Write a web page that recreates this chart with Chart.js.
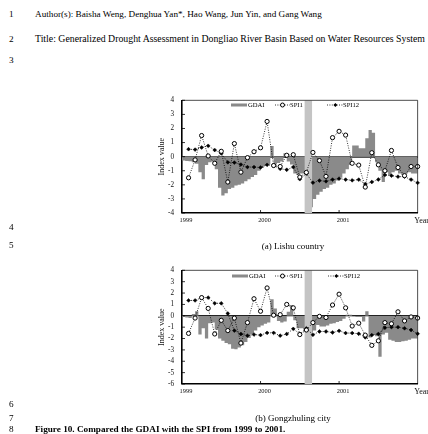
<!DOCTYPE html>
<html>
<head>
<meta charset="utf-8">
<script src="https://cdn.jsdelivr.net/npm/chart.js@4.4.1/dist/chart.umd.min.js"></script>
<style>
  html, body { margin: 0; padding: 0; background: #fff; }
  body { width: 428px; height: 434px; position: relative; overflow: hidden;
         font-family: 'Liberation Serif', 'DejaVu Serif', serif; color: #000; }
  .t { position: absolute; white-space: nowrap; font-size: 9.2px; line-height: 10px; }
  .n { left: 9px; }
  .cap { position: absolute; white-space: nowrap; font-size: 9px; line-height: 10px; transform: translateX(-50%); }
  .box { position: absolute; left: 0; width: 428px; }
  .lg { position: absolute; white-space: nowrap; font-size: 6.6px; line-height: 8px; color: #000; }
  .lg span, .lg svg { position: absolute; top: 0; }
</style>
</head>
<body>
<div class="t n" style="top:9px">1</div>
<div class="t" style="left:35px;top:9px">Author(s): Baisha Weng, Denghua Yan*, Hao Wang, Jun Yin, and Gang Wang</div>
<div class="t n" style="top:34px">2</div>
<div class="t" style="left:35px;top:34px;font-size:9.8px">Title: Generalized Drought Assessment in Dongliao River Basin Based on Water Resources System</div>
<div class="t n" style="top:55px">3</div>

<div class="box" style="top:88px;height:142px"><canvas id="lishu" width="428" height="142"></canvas></div>
<div class="lg" style="left:0;top:101px;width:428px;height:8px">
  <svg style="left:231px" width="16" height="8"><rect x="0" y="2.5" width="16" height="3" fill="#8a8a8a"/></svg>
  <span style="left:248px">GDAI</span>
  <svg style="left:275px" width="15" height="8"><line x1="0" y1="4" x2="15" y2="4" stroke="#000" stroke-width="0.8" stroke-dasharray="1 1.4"/><circle cx="7.5" cy="4" r="2" fill="#fff" stroke="#000" stroke-width="1"/></svg>
  <span style="left:290px">SPI1</span>
  <svg style="left:327px" width="16" height="8"><line x1="0" y1="4" x2="16" y2="4" stroke="#000" stroke-width="0.8" stroke-dasharray="1 1.4"/><rect x="7" y="2.6" width="2.8" height="2.8" fill="#000" transform="rotate(45 8.4 4)"/></svg>
  <span style="left:343px">SPI12</span>
</div>

<div class="t n" style="top:222px">4</div>
<div class="t n" style="top:240px">5</div>
<div class="cap" style="left:293px;top:241px">(a) Lishu country</div>

<div class="box" style="top:258px;height:143px"><canvas id="gong" width="428" height="143"></canvas></div>
<div class="lg" style="left:0;top:272px;width:428px;height:8px">
  <svg style="left:232px" width="16" height="8"><rect x="0" y="2.5" width="16" height="3" fill="#8a8a8a"/></svg>
  <span style="left:249px">GDAI</span>
  <svg style="left:275px" width="15" height="8"><line x1="0" y1="4" x2="15" y2="4" stroke="#000" stroke-width="0.8" stroke-dasharray="1 1.4"/><circle cx="7.5" cy="4" r="2" fill="#fff" stroke="#000" stroke-width="1"/></svg>
  <span style="left:290px">SPI1</span>
  <svg style="left:328px" width="16" height="8"><line x1="0" y1="4" x2="16" y2="4" stroke="#000" stroke-width="0.8" stroke-dasharray="1 1.4"/><rect x="7" y="2.6" width="2.8" height="2.8" fill="#000" transform="rotate(45 8.4 4)"/></svg>
  <span style="left:344px">SPI12</span>
</div>

<div class="t n" style="top:399px">6</div>
<div class="t n" style="top:413px">7</div>
<div class="cap" style="left:293px;top:413px">(b) Gongzhuling city</div>
<div class="t n" style="top:424px">8</div>
<div class="t" style="left:35px;top:424px;font-weight:bold">Figure 10. Compared the GDAI with the SPI from 1999 to 2001.</div>

<script>
// x positions are months since Jan 1999 (0..36); SPI values sit at month ends
const yearTicks = ['1999', '2000', '2001', 'Year'];
const yearTickMonths = [0, 12, 24, 36];
const droughtBand = [18.7, 19.9];

// (a) Lishu country, monthly SPI
const lishuSpi1 = [-1.5, -0.23, 1.5, 0.05, -0.47, 0.38, -1.8, 0.93, -1.1, -0.07, 0.35, 0.63,
                   2.5, -0.63, -0.7, 0.1, 0.14, -1.45, -1.12, 0.3, -0.28, -1.4, 1.35, 1.8,
                   1.53, -0.47, -0.6, -2.16, 0.28, -0.58, -1.0, 0.44, -0.77, -1.35, -0.7, -0.7];
const lishuSpi12 = [0.53, 0.5, 0.65, 0.77, 0.47, 0.23, -0.4, -0.42, -0.56, -0.74, -0.74, -0.77,
                    -0.58, -0.63, -0.86, -0.93, -0.74, -1.6, -1.2, -1.85, -1.7, -1.75, -1.63, -1.56,
                    -1.63, -1.68, -1.63, -1.95, -1.8, -1.62, -1.3, -1.35, -1.42, -1.42, -1.63, -1.86];
// GDAI, half-month steps
const lishuGdai = [-0.25, -0.28, -0.3, -0.32, -0.4, -0.5, -1.1, -1.6, -0.6, -0.4, -0.35, -0.9,
                   -2.2, -2.75, -2.6, -2.3, -2.2, -2.05, -2.0, -1.9, -1.75, -1.6, -1.45, -1.3,
                   -1.0, -0.8, -0.65, -0.55, 0.75, -0.55, -0.45, -0.35, 0.25, -0.35, -0.55, -1.2,
                   -1.3, -1.2, -1.2, -1.2, -3.6, -3.0, -2.7, -2.5, -2.3, -2.2, -2.0, -1.9,
                   -1.7, -1.5, -1.2, -0.9, -0.6, 0.8, 0.8, 0.6, 0.6, 1.3, 1.9, 1.7,
                   -0.4, -1.0, -1.8, -1.1, -1.3, -1.1, -1.0, -1.2, -1.3, -1.2, -1.1, -1.2];

// (b) Gongzhuling city
const gongSpi1 = [-1.55, -0.2, 1.6, 0.65, -1.6, -0.4, -1.3, -0.2, -2.4, -0.6, 1.5, 0.4,
                  2.45, 0.05, 0.1, 1.0, 0.7, -1.65, -1.25, -0.6, -0.05, -0.15, 0.95, 1.9,
                  0.7, -0.9, -0.65, -1.7, -2.6, -2.2, -0.6, -0.7, 0.35, -0.45, -0.1, -0.2];
const gongSpi12 = [1.35, 1.35, 1.6, 1.6, 1.1, 1.1, 0.2, -1.3, -1.6, -1.75, -1.65, -1.7,
                   -1.5, -1.5, -1.75, -1.6, -1.15, -1.6, -1.1, -1.67, -1.38, -1.38, -1.47, -1.32,
                   -1.52, -1.52, -1.58, -1.9, -1.7, -1.6, -1.05, -1.0, -1.0, -1.1, -1.25, -1.58];
const gongGdai = [-0.1, -0.1, -0.15, -0.2, 0.15, 0.4, -1.65, -1.1, -2.0, -0.65, -0.6, -1.2,
                  -2.0, -2.2, -2.4, -2.5, -2.9, -2.95, -2.8, -2.6, -2.3, -1.95, -1.6, -1.3,
                  -1.0, -0.85, -0.7, -0.6, 1.45, 0.65, -0.45, -0.6, -0.5, 0.35, 0.95, -0.4,
                  -1.1, -1.1, -1.2, -1.3, -1.5, -1.3, -0.8, -0.95, -0.95, -0.85, -0.7, -0.65,
                  -0.55, -0.45, -0.25, 0.1, 0.1, -0.05, -0.1, -0.1, -0.5, 0.4, -1.9, -1.7,
                  -1.8, -3.6, -1.65, -1.5, -2.1, -2.2, -2.3, -2.3, -2.25, -2.2, -2.1, -2.0];

const FONT = 'Liberation Serif';

const frame = {
  id: 'frame',
  afterDraw(chart) {
    const { ctx, chartArea: a, scales } = chart;
    ctx.save();
    ctx.strokeStyle = '#000';
    ctx.lineWidth = 0.7;
    ctx.beginPath();
    ctx.moveTo(a.left, a.top); ctx.lineTo(a.right, a.top); ctx.lineTo(a.right, a.bottom);
    ctx.stroke();
    // inward tick marks
    ctx.lineWidth = 0.8;
    ctx.beginPath();
    scales.y.ticks.forEach(t => {
      const y = scales.y.getPixelForValue(t.value);
      ctx.moveTo(a.left, y); ctx.lineTo(a.left + 3, y);
    });
    yearTickMonths.slice(1, 3).forEach(m => {
      const x = scales.x.getPixelForValue(m);
      ctx.moveTo(x, a.bottom); ctx.lineTo(x, a.bottom - 3);
    });
    ctx.stroke();
    ctx.restore();
  }
};

function makeChart(id, spi1, spi12, gdai, yMin, yMax, zeroColor, zeroWidth) {
  const steps = gdai.map((v, i) => ({ x: i / 2, y: v }));
  steps.push({ x: 36, y: gdai[gdai.length - 1] });
  return new Chart(document.getElementById(id), {
    type: 'line',
    data: {
      datasets: [
        {
          label: 'SPI1', data: spi1.map((v, i) => ({ x: i + 1, y: v })),
          borderColor: '#000', borderWidth: 0.8, borderDash: [1, 1.4], tension: 0,
          pointStyle: 'circle', pointRadius: 2.1, pointBackgroundColor: '#fff',
          pointBorderColor: '#000', pointBorderWidth: 1, order: 0, clip: false
        },
        {
          label: 'SPI12', data: spi12.map((v, i) => ({ x: i + 1, y: v })),
          borderColor: '#000', borderWidth: 0.8, borderDash: [1, 1.4], tension: 0,
          pointStyle: 'rectRot', pointRadius: 1.9, pointBackgroundColor: '#000',
          pointBorderColor: '#000', pointBorderWidth: 0.5, order: 1, clip: false
        },
        {
          label: 'band', data: [{ x: droughtBand[0], y: yMax }, { x: droughtBand[1], y: yMax }],
          borderColor: 'rgba(0,0,0,0)', borderWidth: 0, pointRadius: 0,
          backgroundColor: '#c4c4c4', fill: { value: yMin }, order: 2
        },
        {
          label: 'GDAI', data: steps, stepped: 'after',
          borderColor: 'rgba(0,0,0,0)', borderWidth: 0, pointRadius: 0,
          backgroundColor: '#8a8a8a', fill: 'origin', order: 3
        }
      ]
    },
    options: {
      responsive: false,
      animation: false,
      layout: { padding: { left: 152, right: 10, top: 10, bottom: 0 } },
      plugins: { legend: { display: false }, tooltip: { enabled: false } },
      scales: {
        x: {
          type: 'linear', min: 0, max: 36,
          afterBuildTicks: s => { s.ticks = yearTickMonths.map(v => ({ value: v })); },
          afterFit: s => { s.height = 17; },
          ticks: {
            callback: (v, i) => yearTicks[i], autoSkip: false, maxRotation: 0,
            font: c => ({ family: FONT, size: c.index === 3 ? 8 : 6.4 }),
            color: '#111', padding: 3, labelOffset: 4
          },
          grid: { display: true, drawOnChartArea: false, drawTicks: false },
          border: { display: true, color: '#000', width: 1.6 }
        },
        y: {
          min: yMin, max: yMax,
          afterFit: s => { s.width = 30; },
          ticks: { stepSize: 1, autoSkip: false, font: { family: FONT, size: 7.2 }, color: '#111', padding: 8 },
          grid: {
            drawTicks: false,
            color: c => (c.tick && c.tick.value === 0) ? zeroColor : 'rgba(0,0,0,0)',
            lineWidth: c => (c.tick && c.tick.value === 0) ? zeroWidth : 0
          },
          border: { display: true, color: '#000', width: 1.6 },
          title: {
            display: true, text: 'Index value', color: '#111',
            font: { family: FONT, size: 8 }, padding: { top: 5, bottom: 2 }
          }
        }
      }
    },
    plugins: [frame]
  });
}

makeChart('lishu', lishuSpi1, lishuSpi12, lishuGdai, -4, 4, '#555', 2);
makeChart('gong', gongSpi1, gongSpi12, gongGdai, -6, 4, '#000', 1.3);
</script>
</body>
</html>
